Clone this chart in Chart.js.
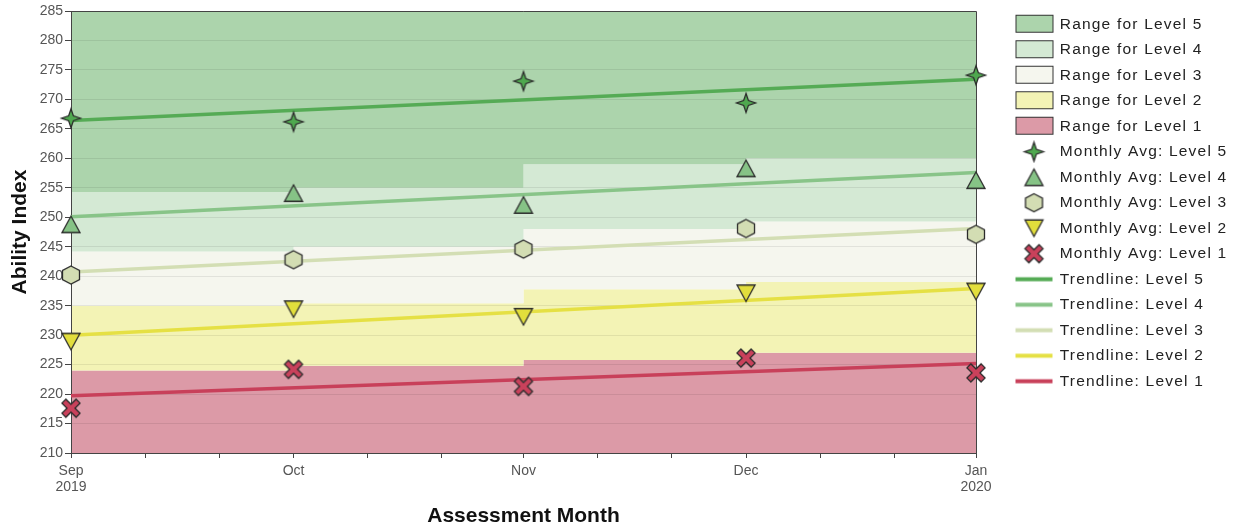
<!DOCTYPE html>
<html>
<head>
<meta charset="utf-8">
<title>Ability Index by Assessment Month</title>
<script src="https://cdn.jsdelivr.net/npm/chart.js@4.4.1/dist/chart.umd.min.js"></script>
<style>
  html, body { margin: 0; padding: 0; background: #fff; }
  #chart { display: block; }
</style>
</head>
<body>
<canvas id="chart" width="1246" height="527"></canvas>
<script>
// Days since 1 Sep 2019 for each assessment month
const monthDays = [0, 30, 61, 91, 122];
const monthLabels = ['Sep', 'Oct', 'Nov', 'Dec', 'Jan'];
const yearLabels = ['2019', '', '', '', '2020'];
const minorTickDays = [10, 20, 40, 50, 71, 81, 101, 111];

// Upper edge of each level's range, month by month (stepped)
const level1Top = [224.0, 224.8, 225.8, 227.0, 227.0];
const level2Top = [235.0, 235.4, 237.8, 239.0, 239.0];
const level3Top = [244.2, 245.0, 248.0, 249.3, 249.3];
const level4Top = [254.3, 255.0, 259.0, 260.0, 260.0];

// Monthly averages
const avgLevel5 = [266.8, 266.2, 273.1, 269.4, 274.1];
const avgLevel4 = [248.8, 254.1, 252.1, 258.3, 256.3];
const avgLevel3 = [240.2, 242.8, 244.6, 248.1, 247.1];
const avgLevel2 = [228.9, 234.4, 233.1, 237.1, 237.4];
const avgLevel1 = [217.6, 224.2, 221.3, 226.1, 223.6];

// Trendlines (start and end of the period)
const trendDays = [0, 122];
const trendLevel5 = [266.4, 273.4];
const trendLevel4 = [250.1, 257.6];
const trendLevel3 = [240.7, 248.1];
const trendLevel2 = [230.0, 237.9];
const trendLevel1 = [219.7, 225.2];

const bandColors = { l5: '#acd4ac', l4: '#d4e9d4', l3: '#f5f6ee', l2: '#f3f3b5', l1: '#dc9aa7' };
const markerColors = { l5: '#4fa84f', l4: '#86c386', l3: '#d3ddb3', l2: '#e2de3c', l1: '#c9415b' };
const trendColors = { l5: '#55ab55', l4: '#88c488', l3: '#d3deb4', l2: '#e5e044', l1: '#c8405a' };

function points(days, values) {
    return values.map((v, i) => ({ x: days[i], y: v }));
}

function makeCanvas(w, h, paint) {
    const c = document.createElement('canvas');
    c.width = w;
    c.height = h;
    paint(c.getContext('2d'));
    return c;
}

// Marker outlines
function starPath(g, cx, cy) {
    g.beginPath();
    for (let k = 0; k < 8; k++) {
        const r = k % 2 === 0 ? 9.5 : 3.4;
        const a = -Math.PI / 2 + k * Math.PI / 4;
        const px = cx + r * Math.cos(a), py = cy + r * Math.sin(a);
        if (k === 0) g.moveTo(px, py); else g.lineTo(px, py);
    }
    g.closePath();
}

function triUpPath(g, cx, cy) {
    g.beginPath();
    g.moveTo(cx, cy - 8.25);
    g.lineTo(cx + 9, cy + 8.25);
    g.lineTo(cx - 9, cy + 8.25);
    g.closePath();
}

function triDownPath(g, cx, cy) {
    g.beginPath();
    g.moveTo(cx - 9, cy - 8.25);
    g.lineTo(cx + 9, cy - 8.25);
    g.lineTo(cx, cy + 8.25);
    g.closePath();
}

function hexPath(g, cx, cy) {
    g.beginPath();
    g.moveTo(cx, cy - 9);
    g.lineTo(cx + 8.5, cy - 4.5);
    g.lineTo(cx + 8.5, cy + 4.5);
    g.lineTo(cx, cy + 9);
    g.lineTo(cx - 8.5, cy + 4.5);
    g.lineTo(cx - 8.5, cy - 4.5);
    g.closePath();
}

function crossPath(g, cx, cy) {
    const L = 10, w = 2.8;
    const pts = [[-w, -L], [w, -L], [w, -w], [L, -w], [L, w], [w, w], [w, L], [-w, L], [-w, w], [-L, w], [-L, -w], [-w, -w]];
    const c = Math.SQRT1_2;
    g.beginPath();
    pts.forEach(([px, py], k) => {
        const rx = cx + (px - py) * c, ry = cy + (px + py) * c;
        if (k === 0) g.moveTo(rx, ry); else g.lineTo(rx, ry);
    });
    g.closePath();
}

function paintMarker(g, path, fill, cx, cy) {
    g.fillStyle = fill;
    g.strokeStyle = '#2b2b2b';
    g.lineWidth = 1.3;
    path(g, cx, cy);
    g.fill();
    g.stroke();
}

const markerShapes = [
    [starPath, markerColors.l5],
    [triUpPath, markerColors.l4],
    [hexPath, markerColors.l3],
    [triDownPath, markerColors.l2],
    [crossPath, markerColors.l1]
];

const pointImages = markerShapes.map(([path, fill]) =>
    makeCanvas(24, 24, g => paintMarker(g, path, fill, 12, 12)));

// Legend icons: 71x23, box area starts at x=32
const ICON_W = 71, ICON_H = 23;
const bandIcons = [bandColors.l5, bandColors.l4, bandColors.l3, bandColors.l2, bandColors.l1].map(col =>
    makeCanvas(ICON_W, ICON_H, g => {
        g.fillStyle = col;
        g.fillRect(32.5, 2.5, 37, 17);
        g.strokeStyle = '#333';
        g.lineWidth = 1;
        g.strokeRect(32.5, 2.5, 37, 17);
    }));
const markerIcons = markerShapes.map(([path, fill]) =>
    makeCanvas(ICON_W, ICON_H, g => paintMarker(g, path, fill, 50.5, 11.5)));
const lineIcons = [trendColors.l5, trendColors.l4, trendColors.l3, trendColors.l2, trendColors.l1].map(col =>
    makeCanvas(ICON_W, ICON_H, g => {
        g.strokeStyle = col;
        g.lineWidth = 4;
        g.beginPath();
        g.moveTo(32, 11.5);
        g.lineTo(69, 11.5);
        g.stroke();
    }));
const legendIcons = bandIcons.concat(markerIcons, lineIcons);

// Each band holds its upper edge and fills down to the next band's edge
function band(label, tops, color, fill) {
    return {
        label,
        data: points(monthDays, tops),
        stepped: 'before',
        fill,
        backgroundColor: color,
        borderColor: 'rgba(0,0,0,0)',
        borderWidth: 0,
        pointRadius: 0
    };
}

function markers(label, values, image) {
    return {
        label,
        data: points(monthDays, values),
        showLine: false,
        pointStyle: image,
        pointRadius: 9,
        pointHoverRadius: 9,
        borderColor: 'rgba(0,0,0,0)',
        backgroundColor: 'rgba(0,0,0,0)',
        clip: false
    };
}

function trend(label, values, color) {
    return {
        label,
        data: points(trendDays, values),
        borderColor: color,
        borderWidth: 3.5,
        pointRadius: 0,
        fill: false,
        clip: false
    };
}

// Top and right edges of the plot box
const plotFrame = {
    id: 'plotFrame',
    beforeDatasetsDraw(chart) {
        const { ctx, chartArea: a } = chart;
        ctx.save();
        ctx.strokeStyle = '#444';
        ctx.lineWidth = 1;
        ctx.beginPath();
        ctx.moveTo(a.left, a.top + 0.5);
        ctx.lineTo(a.right + 0.5, a.top + 0.5);
        ctx.lineTo(a.right + 0.5, a.bottom);
        ctx.stroke();
        ctx.restore();
    }
};

// Fixed legend width and spaced-out legend text
const legendTweaks = {
    id: 'legendTweaks',
    afterInit(chart) {
        const legend = chart.legend;
        const fit = legend.fit;
        legend.fit = function () {
            fit.call(this);
            if (!this.isHorizontal()) this.width = 270;
        };
        const draw = legend.draw;
        legend.draw = function () {
            this.ctx.save();
            this.ctx.letterSpacing = '1.2px';
            draw.call(this);
            this.ctx.restore();
        };
    }
};

Chart.defaults.font.family = '"Liberation Sans", Arial, sans-serif';
Chart.defaults.color = '#555';

new Chart(document.getElementById('chart'), {
    type: 'line',
    data: {
        datasets: [
            band('Range for Level 5', level4Top, bandColors.l5, 'end'),
            band('Range for Level 4', level4Top, bandColors.l4, '+1'),
            band('Range for Level 3', level3Top, bandColors.l3, '+1'),
            band('Range for Level 2', level2Top, bandColors.l2, '+1'),
            band('Range for Level 1', level1Top, bandColors.l1, 'start'),
            markers('Monthly Avg: Level 5', avgLevel5, pointImages[0]),
            markers('Monthly Avg: Level 4', avgLevel4, pointImages[1]),
            markers('Monthly Avg: Level 3', avgLevel3, pointImages[2]),
            markers('Monthly Avg: Level 2', avgLevel2, pointImages[3]),
            markers('Monthly Avg: Level 1', avgLevel1, pointImages[4]),
            trend('Trendline: Level 5', trendLevel5, trendColors.l5),
            trend('Trendline: Level 4', trendLevel4, trendColors.l4),
            trend('Trendline: Level 3', trendLevel3, trendColors.l3),
            trend('Trendline: Level 2', trendLevel2, trendColors.l2),
            trend('Trendline: Level 1', trendLevel1, trendColors.l1)
        ]
    },
    options: {
        responsive: false,
        animation: false,
        events: [],
        layout: { padding: 0 },
        scales: {
            x: {
                type: 'linear',
                min: monthDays[0],
                max: monthDays[monthDays.length - 1],
                afterFit(scale) { scale.height = 74; },
                afterBuildTicks(scale) {
                    scale.ticks = monthDays.concat(minorTickDays)
                        .sort((a, b) => a - b)
                        .map(v => ({ value: v }));
                },
                border: { display: true, color: '#444', width: 1 },
                grid: { drawOnChartArea: false, drawTicks: true, tickLength: 5, tickColor: '#444' },
                ticks: {
                    autoSkip: false,
                    maxRotation: 0,
                    padding: 5,
                    color: '#555',
                    font: { size: 14, lineHeight: 1.15 },
                    callback(value) {
                        const i = monthDays.indexOf(value);
                        if (i < 0) return '';
                        return yearLabels[i] ? [monthLabels[i], yearLabels[i]] : monthLabels[i];
                    }
                },
                title: {
                    display: true,
                    text: 'Assessment Month',
                    color: '#111',
                    font: { size: 21, weight: 'bold' },
                    padding: { top: 0, bottom: -2 }
                }
            },
            y: {
                min: 210,
                max: 285,
                afterFit(scale) { scale.width = 71; },
                border: { display: true, color: '#444', width: 1 },
                grid: { color: 'rgba(0,0,0,0.08)', tickLength: 6, tickColor: '#444' },
                ticks: { stepSize: 5, padding: 2, color: '#555', font: { size: 14 } },
                title: {
                    display: true,
                    text: 'Ability Index',
                    color: '#111',
                    font: { size: 21, weight: 'bold' },
                    padding: { top: 8, bottom: 0 }
                }
            }
        },
        plugins: {
            filler: { drawTime: 'beforeDraw' },
            tooltip: { enabled: false },
            title: {
                display: true,
                text: '',
                fullSize: false,
                padding: 0,
                font: { size: 11, lineHeight: 1 }
            },
            legend: {
                position: 'right',
                align: 'start',
                title: { display: true, text: '', padding: 0, font: { size: 6.5, lineHeight: 1 } },
                labels: {
                    usePointStyle: true,
                    pointStyleWidth: 66,
                    padding: 10,
                    color: '#222',
                    font: { size: 15.5 },
                    generateLabels(chart) {
                        return chart.data.datasets.map((ds, i) => ({
                            text: ds.label,
                            pointStyle: legendIcons[i],
                            datasetIndex: i,
                            hidden: false,
                            lineWidth: 0,
                            fillStyle: 'rgba(0,0,0,0)',
                            strokeStyle: 'rgba(0,0,0,0)',
                            fontColor: '#222'
                        }));
                    }
                }
            }
        }
    },
    plugins: [plotFrame, legendTweaks]
});
</script>
</body>
</html>
